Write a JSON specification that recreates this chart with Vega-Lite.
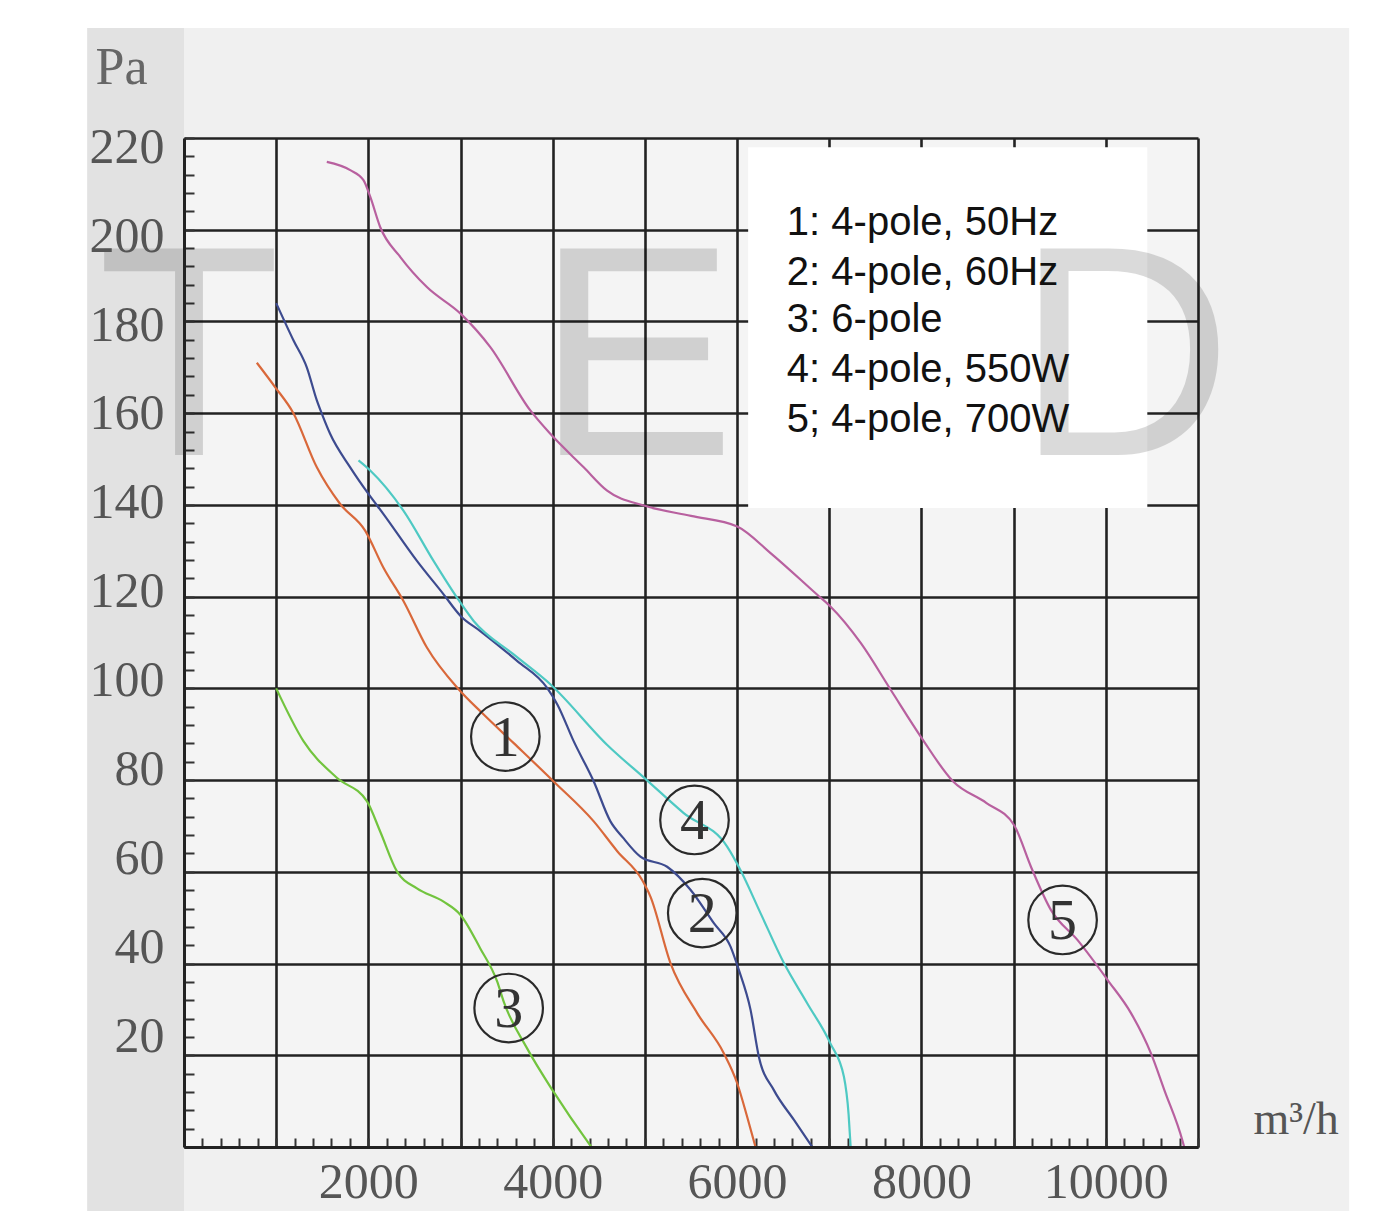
{
  "$schema": "https://vega.github.io/schema/vega-lite/v6.json",
  "width": 1014,
  "height": 1009,
  "autosize": "none",
  "padding": {"left": 184, "top": 138, "right": 185, "bottom": 64},
  "background": "#f0f0f0",
  "view": {"fill": "#f4f4f4", "stroke": null},
  "datasets": {
    "curves": [
      {"series": "1", "flow": 790, "pressure": 171},
      {"series": "1", "flow": 988, "pressure": 165.7},
      {"series": "1", "flow": 1187, "pressure": 160},
      {"series": "1", "flow": 1441, "pressure": 148.2},
      {"series": "1", "flow": 1694, "pressure": 140.2},
      {"series": "1", "flow": 1965, "pressure": 134.4},
      {"series": "1", "flow": 2164, "pressure": 126.3},
      {"series": "1", "flow": 2382, "pressure": 119},
      {"series": "1", "flow": 2635, "pressure": 108.9},
      {"series": "1", "flow": 2979, "pressure": 99.8},
      {"series": "1", "flow": 3251, "pressure": 94.3},
      {"series": "1", "flow": 3580, "pressure": 88},
      {"series": "1", "flow": 4010, "pressure": 79.7},
      {"series": "1", "flow": 4445, "pressure": 71},
      {"series": "1", "flow": 4700, "pressure": 64.5},
      {"series": "1", "flow": 4970, "pressure": 58.2},
      {"series": "1", "flow": 5060, "pressure": 54.6},
      {"series": "1", "flow": 5277, "pressure": 40.1},
      {"series": "1", "flow": 5567, "pressure": 29.2},
      {"series": "1", "flow": 5857, "pressure": 20.4},
      {"series": "1", "flow": 6001, "pressure": 13.9},
      {"series": "1", "flow": 6109, "pressure": 6.6},
      {"series": "1", "flow": 6200, "pressure": 0},
      {"series": "2", "flow": 1000, "pressure": 184},
      {"series": "2", "flow": 1187, "pressure": 175.9},
      {"series": "2", "flow": 1332, "pressure": 170},
      {"series": "2", "flow": 1441, "pressure": 162.8},
      {"series": "2", "flow": 1495, "pressure": 159.9},
      {"series": "2", "flow": 1585, "pressure": 155.5},
      {"series": "2", "flow": 1803, "pressure": 148.2},
      {"series": "2", "flow": 2001, "pressure": 142.4},
      {"series": "2", "flow": 2164, "pressure": 138},
      {"series": "2", "flow": 2527, "pressure": 127.8},
      {"series": "2", "flow": 2816, "pressure": 120.5},
      {"series": "2", "flow": 3000, "pressure": 115.8},
      {"series": "2", "flow": 3214, "pressure": 112.5},
      {"series": "2", "flow": 3613, "pressure": 106},
      {"series": "2", "flow": 3939, "pressure": 100.1},
      {"series": "2", "flow": 4050, "pressure": 96.5},
      {"series": "2", "flow": 4227, "pressure": 88.5},
      {"series": "2", "flow": 4445, "pressure": 79.7},
      {"series": "2", "flow": 4626, "pressure": 71},
      {"series": "2", "flow": 4760, "pressure": 67.5},
      {"series": "2", "flow": 4951, "pressure": 63.3},
      {"series": "2", "flow": 5241, "pressure": 61.1},
      {"series": "2", "flow": 5494, "pressure": 56.1},
      {"series": "2", "flow": 5748, "pressure": 48.8},
      {"series": "2", "flow": 5929, "pressure": 43.7},
      {"series": "2", "flow": 6019, "pressure": 38.6},
      {"series": "2", "flow": 6146, "pressure": 29.9},
      {"series": "2", "flow": 6236, "pressure": 19.7},
      {"series": "2", "flow": 6399, "pressure": 12.4},
      {"series": "2", "flow": 6617, "pressure": 5.9},
      {"series": "2", "flow": 6816, "pressure": 0},
      {"series": "3", "flow": 1000, "pressure": 100},
      {"series": "3", "flow": 1296, "pressure": 88.5},
      {"series": "3", "flow": 1658, "pressure": 80.5},
      {"series": "3", "flow": 1984, "pressure": 75.4},
      {"series": "3", "flow": 2128, "pressure": 68.8},
      {"series": "3", "flow": 2310, "pressure": 60.1},
      {"series": "3", "flow": 2527, "pressure": 56.4},
      {"series": "3", "flow": 2816, "pressure": 53.5},
      {"series": "3", "flow": 3000, "pressure": 50.6},
      {"series": "3", "flow": 3214, "pressure": 43.3},
      {"series": "3", "flow": 3397, "pressure": 36.1},
      {"series": "3", "flow": 3468, "pressure": 31.7},
      {"series": "3", "flow": 3722, "pressure": 21.5},
      {"series": "3", "flow": 4010, "pressure": 12},
      {"series": "3", "flow": 4380, "pressure": 1.1},
      {"series": "3", "flow": 4420, "pressure": 0},
      {"series": "4", "flow": 1893, "pressure": 149.7},
      {"series": "4", "flow": 2020, "pressure": 147.5},
      {"series": "4", "flow": 2382, "pressure": 138.7},
      {"series": "4", "flow": 2707, "pressure": 127.8},
      {"series": "4", "flow": 2961, "pressure": 119.8},
      {"series": "4", "flow": 3142, "pressure": 114.7},
      {"series": "4", "flow": 3576, "pressure": 107.4},
      {"series": "4", "flow": 3974, "pressure": 100.9},
      {"series": "4", "flow": 4600, "pressure": 87.5},
      {"series": "4", "flow": 5020, "pressure": 80},
      {"series": "4", "flow": 5421, "pressure": 72.8},
      {"series": "4", "flow": 5892, "pressure": 65.5},
      {"series": "4", "flow": 6036, "pressure": 60.4},
      {"series": "4", "flow": 6254, "pressure": 51},
      {"series": "4", "flow": 6508, "pressure": 40.1},
      {"series": "4", "flow": 6762, "pressure": 31.3},
      {"series": "4", "flow": 7012, "pressure": 22.6},
      {"series": "4", "flow": 7159, "pressure": 15.3},
      {"series": "4", "flow": 7210, "pressure": 7},
      {"series": "4", "flow": 7232, "pressure": 0},
      {"series": "5", "flow": 1549, "pressure": 214.8},
      {"series": "5", "flow": 1803, "pressure": 213},
      {"series": "5", "flow": 1947, "pressure": 210.8},
      {"series": "5", "flow": 2020, "pressure": 207.2},
      {"series": "5", "flow": 2128, "pressure": 200.6},
      {"series": "5", "flow": 2345, "pressure": 194.1},
      {"series": "5", "flow": 2635, "pressure": 187.5},
      {"series": "5", "flow": 3000, "pressure": 181.7},
      {"series": "5", "flow": 3323, "pressure": 174.4},
      {"series": "5", "flow": 3757, "pressure": 160.6},
      {"series": "5", "flow": 3974, "pressure": 155.5},
      {"series": "5", "flow": 4336, "pressure": 148.2},
      {"series": "5", "flow": 4590, "pressure": 143.1},
      {"series": "5", "flow": 5000, "pressure": 139.8},
      {"series": "5", "flow": 5500, "pressure": 137.6},
      {"series": "5", "flow": 6002, "pressure": 135.3},
      {"series": "5", "flow": 6363, "pressure": 129.5},
      {"series": "5", "flow": 6870, "pressure": 120.4},
      {"series": "5", "flow": 7015, "pressure": 117.8},
      {"series": "5", "flow": 7341, "pressure": 109.9},
      {"series": "5", "flow": 7666, "pressure": 99.7},
      {"series": "5", "flow": 7992, "pressure": 89.5},
      {"series": "5", "flow": 8344, "pressure": 79.7},
      {"series": "5", "flow": 8706, "pressure": 75},
      {"series": "5", "flow": 9004, "pressure": 70.2},
      {"series": "5", "flow": 9190, "pressure": 61},
      {"series": "5", "flow": 9404, "pressure": 51.7},
      {"series": "5", "flow": 9694, "pressure": 45.1},
      {"series": "5", "flow": 10020, "pressure": 36.4},
      {"series": "5", "flow": 10273, "pressure": 29.2},
      {"series": "5", "flow": 10490, "pressure": 20.4},
      {"series": "5", "flow": 10635, "pressure": 12.4},
      {"series": "5", "flow": 10834, "pressure": 1.2},
      {"series": "5", "flow": 10850, "pressure": 0}
    ],
    "markers": [
      {"label": "1", "flow": 3486, "pressure": 89.5},
      {"label": "2", "flow": 5622, "pressure": 51},
      {"label": "3", "flow": 3522, "pressure": 30.3},
      {"label": "4", "flow": 5538, "pressure": 71.3},
      {"label": "5", "flow": 9531, "pressure": 49.5}
    ],
    "legendText": [
      {"text": "1: 4-pole, 50Hz", "flow": 6540, "pressure": 198.9},
      {"text": "2: 4-pole, 60Hz", "flow": 6540, "pressure": 188},
      {"text": "3: 6-pole", "flow": 6540, "pressure": 177.8},
      {"text": "4: 4-pole, 550W", "flow": 6540, "pressure": 166.9},
      {"text": "5; 4-pole, 700W", "flow": 6540, "pressure": 155.9}
    ],
    "watermark": [
      {"letter": "T", "flow": 55, "pressure": 150.9},
      {"letter": "E", "flow": 4900, "pressure": 150.9},
      {"letter": "D", "flow": 10200, "pressure": 150.9}
    ],
    "legendBox": [{"x1": 6120, "x2": 10450, "y1": 139.3, "y2": 218}],
    "band": [{"x1": -1050, "x2": 0, "y1": -14, "y2": 244}],
    "whiteMargins": [
      {"x1": -2100, "x2": -1050, "y1": -20, "y2": 260},
      {"x1": -2100, "x2": 14000, "y1": 244, "y2": 260},
      {"x1": 12640, "x2": 14000, "y1": -20, "y2": 260}
    ]
  },
  "layer": [
    {
      "data": {"name": "whiteMargins"},
      "mark": {"type": "rect", "color": "#ffffff"},
      "encoding": {
        "x": {"field": "x1", "type": "quantitative", "scale": {"domain": [0, 11000], "nice": false, "zero": false}, "axis": null},
        "x2": {"field": "x2"},
        "y": {"field": "y1", "type": "quantitative", "scale": {"domain": [0, 220], "nice": false, "zero": false}, "axis": null},
        "y2": {"field": "y2"}
      }
    },
    {
      "data": {"name": "band"},
      "mark": {"type": "rect", "color": "#e2e2e2"},
      "encoding": {
        "x": {"field": "x1", "type": "quantitative", "scale": {"domain": [0, 11000], "nice": false, "zero": false}, "axis": null},
        "x2": {"field": "x2"},
        "y": {"field": "y1", "type": "quantitative", "scale": {"domain": [0, 220], "nice": false, "zero": false}, "axis": null},
        "y2": {"field": "y2"}
      }
    },
    {
      "data": {"name": "legendBox"},
      "mark": {"type": "rect", "color": "#ffffff"},
      "encoding": {
        "x": {
          "field": "x1", "type": "quantitative",
          "scale": {"domain": [0, 11000], "nice": false, "zero": false},
          "axis": {
            "orient": "bottom", "offset": -9, "tickSize": 9, "tickWidth": 2, "tickColor": "#333333",
            "labels": false, "domain": false, "grid": false, "title": null,
            "values": [0,200,400,600,800,1000,1200,1400,1600,1800,2000,2200,2400,2600,2800,3000,3200,3400,3600,3800,4000,4200,4400,4600,4800,5000,5200,5400,5600,5800,6000,6200,6400,6600,6800,7000,7200,7400,7600,7800,8000,8200,8400,8600,8800,9000,9200,9400,9600,9800,10000,10200,10400,10600,10800,11000]
          }
        },
        "x2": {"field": "x2"},
        "y": {
          "field": "y1", "type": "quantitative",
          "scale": {"domain": [0, 220], "nice": false, "zero": false},
          "axis": {
            "orient": "left", "offset": -10, "tickSize": 10, "tickWidth": 2, "tickColor": "#333333",
            "labels": false, "domain": false, "grid": false, "title": null,
            "values": [0,4,8,12,16,20,24,28,32,36,40,44,48,52,56,60,64,68,72,76,80,84,88,92,96,100,104,108,112,116,120,124,128,132,136,140,144,148,152,156,160,164,168,172,176,180,184,188,192,196,200,204,208,212,216,220]
          }
        },
        "y2": {"field": "y2"}
      }
    },
    {
      "data": {"name": "watermark"},
      "mark": {"type": "text", "font": "Liberation Sans", "fontSize": 300, "color": "#000000", "opacity": 0.14, "align": "center", "baseline": "alphabetic"},
      "encoding": {
        "x": {"field": "flow", "type": "quantitative", "scale": {"domain": [0, 11000], "nice": false, "zero": false}, "axis": null},
        "y": {"field": "pressure", "type": "quantitative", "scale": {"domain": [0, 220], "nice": false, "zero": false}, "axis": null},
        "text": {"field": "letter"}
      }
    },
    {
      "data": {"name": "curves"},
      "mark": {"type": "line", "interpolate": "monotone", "strokeWidth": 2.2},
      "encoding": {
        "x": {
          "field": "flow", "type": "quantitative",
          "scale": {"domain": [0, 11000], "nice": false, "zero": false},
          "axis": {
            "orient": "bottom",
            "values": [0,1000,2000,3000,4000,5000,6000,7000,8000,9000,10000,11000],
            "grid": true, "gridColor": "#222222", "gridWidth": 2.6,
            "ticks": false, "labels": false, "domain": false, "title": null
          }
        },
        "y": {
          "field": "pressure", "type": "quantitative",
          "scale": {"domain": [0, 220], "nice": false, "zero": false},
          "axis": {
            "orient": "left",
            "values": [0,20,40,60,80,100,120,140,160,180,200,220],
            "grid": true, "gridColor": "#222222", "gridWidth": 2.6,
            "ticks": false, "labels": false, "domain": false, "title": null
          }
        },
        "color": {
          "field": "series", "type": "nominal",
          "scale": {"domain": ["1", "2", "3", "4", "5"], "range": ["#d9683a", "#3d4b8f", "#72c43e", "#4ec9c3", "#b8609f"]},
          "legend": null
        }
      }
    },
    {
      "data": {"name": "markers"},
      "mark": {"type": "point", "shape": "circle", "filled": false, "size": 4700, "color": "#2a2a2a", "strokeWidth": 2.2, "opacity": 1},
      "encoding": {
        "x": {
          "field": "flow", "type": "quantitative",
          "scale": {"domain": [0, 11000], "nice": false, "zero": false},
          "axis": {
            "orient": "bottom", "zindex": 1,
            "values": [2000, 4000, 6000, 8000, 10000],
            "format": "d",
            "grid": false, "ticks": false,
            "domain": true, "domainColor": "#222222", "domainWidth": 3,
            "labelFont": "Liberation Serif", "labelFontSize": 50, "labelColor": "#555555",
            "labelPadding": 10, "labelFlush": false, "labelOverlap": false,
            "title": "m³/h", "titleFont": "Liberation Serif", "titleFontSize": 46, "titleFontWeight": "normal",
            "titleColor": "#555555", "titleX": 1069, "titleY": -14, "titleAlign": "left", "titleBaseline": "alphabetic", "titleAngle": 0
          }
        },
        "y": {
          "field": "pressure", "type": "quantitative",
          "scale": {"domain": [0, 220], "nice": false, "zero": false},
          "axis": {
            "orient": "left", "zindex": 1,
            "values": [0,20,40,60,80,100,120,140,160,180,200,220],
            "labelExpr": "datum.value == 0 ? '' : datum.label",
            "labelOffset": {"expr": "(datum.value - 140) * 0.14 - 2"},
            "grid": false, "ticks": false,
            "domain": true, "domainColor": "#222222", "domainWidth": 3,
            "labelFont": "Liberation Serif", "labelFontSize": 50, "labelColor": "#555555",
            "labelPadding": 20, "labelOverlap": false,
            "title": "Pa", "titleFont": "Liberation Serif", "titleFontSize": 52, "titleFontWeight": "normal",
            "titleColor": "#666666", "titleX": -89, "titleY": -55, "titleAlign": "left", "titleBaseline": "alphabetic", "titleAngle": 0
          }
        }
      }
    },
    {
      "data": {"name": "markers"},
      "mark": {"type": "text", "font": "Liberation Serif", "fontSize": 58, "color": "#333333", "align": "center", "baseline": "middle", "dy": 2},
      "encoding": {
        "x": {"field": "flow", "type": "quantitative", "scale": {"domain": [0, 11000], "nice": false, "zero": false}, "axis": null},
        "y": {"field": "pressure", "type": "quantitative", "scale": {"domain": [0, 220], "nice": false, "zero": false}, "axis": null},
        "text": {"field": "label"}
      }
    },
    {
      "data": {"name": "legendText"},
      "mark": {"type": "text", "font": "Liberation Sans", "fontSize": 40, "color": "#111111", "align": "left", "baseline": "alphabetic"},
      "encoding": {
        "x": {"field": "flow", "type": "quantitative", "scale": {"domain": [0, 11000], "nice": false, "zero": false}, "axis": null},
        "y": {"field": "pressure", "type": "quantitative", "scale": {"domain": [0, 220], "nice": false, "zero": false}, "axis": null},
        "text": {"field": "text"}
      }
    }
  ],
  "resolve": {"axis": {"x": "independent", "y": "independent"}}
}
